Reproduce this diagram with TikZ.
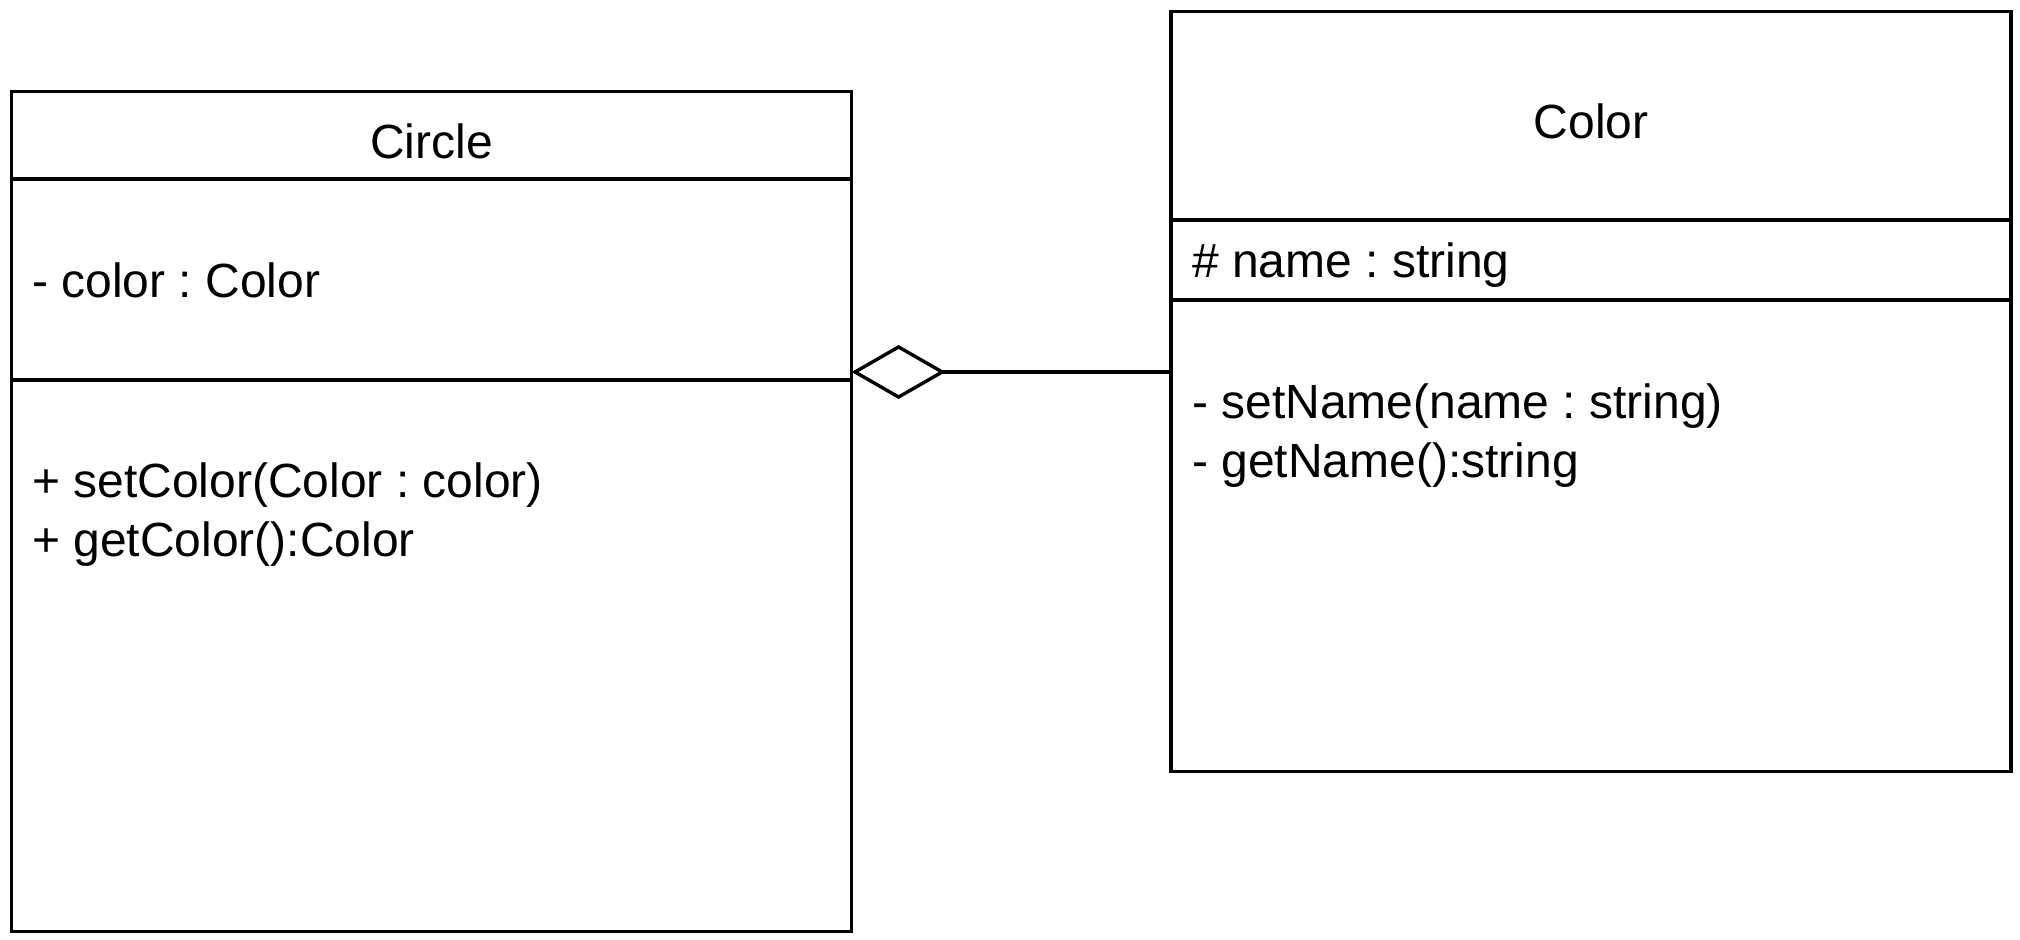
\documentclass[tikz,border=0pt]{standalone}
\usepackage{fontspec}
\setmainfont{Liberation Sans}
\usetikzlibrary{arrows.meta}
\frenchspacing
\tikzset{
  umlbox/.style={draw, line width=1.7pt, inner sep=0pt, outer sep=0pt, anchor=north west},
  member/.style={inner sep=0pt, anchor=base west, font=\fontsize{24}{28}\selectfont},
  classname/.style={inner sep=0pt, anchor=base, font=\fontsize{24}{28}\selectfont},
  sepline/.style={line width=1.7pt},
  aggr/.style={line width=1.7pt, -{Diamond[open, length=47pt, width=27pt]}}
}
\begin{document}
\begin{tikzpicture}[x=0.5pt, y=-0.5pt, line join=miter]
\useasboundingbox (0,0) rectangle (2020,940);
% class Circle
\node[umlbox, minimum width=420pt, minimum height=420pt] (circle) at (11.6,91.5) {};
\draw[sepline] (circle.west |- 0,179) -- (circle.east |- 0,179);
\draw[sepline] (circle.west |- 0,380) -- (circle.east |- 0,380);
\node[classname] (circlename) at (circle.north |- 0,159) {Circle};
\node[member] (circleattr) at (31.7,298) {- color : Color};
\node[member] (setcolor) at (31.7,498) {+ setColor(Color : color)};
\node[member] (getcolor) at ([yshift=-29.5pt]setcolor.base west) {+ getColor():Color};
% class Color
\node[umlbox, minimum width=420pt, minimum height=380pt] (colorcls) at (1171,11.6) {};
\draw[sepline] (colorcls.west |- 0,220) -- (colorcls.east |- 0,220);
\draw[sepline] (colorcls.west |- 0,300) -- (colorcls.east |- 0,300);
\node[classname] (colorname) at (colorcls.north |- 0,139) {Color};
\node[member] (colorattr) at (1191.7,278) {\# name : string};
\node[member] (setname) at (1191.7,419) {- setName(name : string)};
\node[member] (getname) at ([yshift=-29.5pt]setname.base west) {- getName():string};
% aggregation
\draw[aggr] (colorcls.west |- 0,372) -- (circle.east |- 0,372);
\end{tikzpicture}
\end{document}
